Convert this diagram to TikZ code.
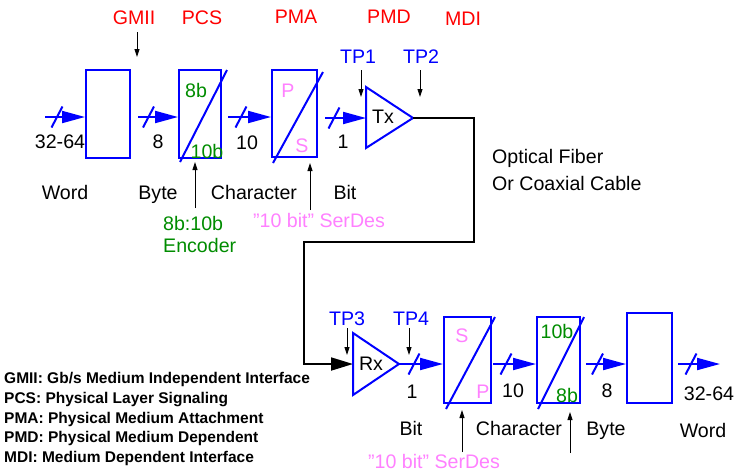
\documentclass[tikz,border=0pt]{standalone}
\usepackage{fontspec}
\setmainfont{Liberation Sans}
\usetikzlibrary{arrows.meta,calc}
\definecolor{myred}{RGB}{255,0,0}
\definecolor{myblue}{RGB}{0,0,255}
\definecolor{mygreen}{RGB}{0,140,0}
\definecolor{mypink}{RGB}{255,128,255}
\newcommand{\dq}{\symbol{34}}
\begin{document}
\begin{tikzpicture}[x=1pt,y=-1pt,
  txt/.style={font=\fontsize{19.6}{22}\selectfont, inner sep=0pt, anchor=base},
  legendtxt/.style={font=\fontsize{15.5}{18}\selectfont\bfseries, inner sep=0pt, anchor=base west},
  blk/.style={draw=myblue, line width=2pt, inner sep=0pt},
  bus/.style={draw=myblue, line width=2pt, -{Triangle[length=23pt,width=12pt]}},
  ptr/.style={draw=black, line width=0.9pt, -{Triangle[length=8pt,width=5pt]}},
  fiber/.style={draw=black, line width=1.8pt, -{Triangle[length=22pt,width=13pt]}},
  diag/.style={draw=myblue, line width=2pt},
  busslash/.pic={\draw[myblue, line width=2pt] (-5.5,10.5) -- (5.5,-10.5);}
]
\useasboundingbox (0,0) rectangle (735,472);

% ---------- top row ----------
\node[blk, minimum width=44pt, minimum height=88pt] (b1) at (108,114) {};
\node[blk, minimum width=42pt, minimum height=88pt] (b2) at (200,114) {};
\node[blk, minimum width=45pt, minimum height=87pt] (b3) at (294.5,113.5) {};
\draw[diag] ($(b2.south west)+(2,3)$) -- ($(b2.north east)+(5,1)$);
\draw[diag] ($(b3.south west)+(2,5)$) -- ($(b3.north east)+(5,3)$);

\coordinate (txin) at (366,118);
\coordinate (txout) at (413,118);
\draw[myblue, line width=2pt, line join=miter] (366,87) -- (txout) -- (366,148) -- cycle;
\node[txt] (tx) at (383,123) {Tx};

\coordinate (i1) at (45,117);
\coordinate (i2) at (138,117);
\coordinate (i3) at (228,117);
\coordinate (i4) at (325,118);
\draw[bus] (i1) -- (i1 -| b1.west);
\draw[bus] (i2) -- (i2 -| b2.west);
\draw[bus] (i3) -- (i3 -| b3.west);
\draw[bus] (i4) -- (txin);
\pic at (57,117) {busslash};
\pic at (148.5,117) {busslash};
\pic at (241,117) {busslash};
\pic at (334,118) {busslash};

\node[txt] (n1) at (60,148) {32-64};
\node[txt] (n2) at (158,148) {8};
\node[txt] (n3) at (247,149) {10};
\node[txt] (n4) at (343,148) {1};
\node[txt] (w1) at (65,199) {Word};
\node[txt] (w2) at (158,199) {Byte};
\node[txt] (w3) at (254,199) {Character};
\node[txt] (w4) at (345,199) {Bit};

\node[txt, text=mygreen] (e8a) at (196,97) {8b};
\node[txt, text=mygreen] (e10a) at (207,158) {10b};
\node[txt, text=mypink] (pa) at (288,97) {P};
\node[txt, text=mypink] (sa) at (302,152) {S};

\node[txt, text=myred] (gmii) at (134,24) {GMII};
\node[txt, text=myred] (pcs) at (202,24) {PCS};
\node[txt, text=myred] (pma) at (296,23) {PMA};
\node[txt, text=myred] (pmd) at (389,23) {PMD};
\node[txt, text=myred] (mdi) at (463,25) {MDI};
\node[txt, text=myblue] (tp1) at (358,63) {TP1};
\node[txt, text=myblue] (tp2) at (421,63) {TP2};

\coordinate (g0) at (137,32);  \coordinate (g1) at (137,57);
\coordinate (t10) at (361,70); \coordinate (t11) at (361,97);
\coordinate (t20) at (420,70); \coordinate (t21) at (420,97);
\coordinate (p0) at (195,208); \coordinate (p1) at (195,162);
\coordinate (m0) at (310,210); \coordinate (m1) at (310,163);
\draw[ptr] (g0) -- (g1);
\draw[ptr] (t10) -- (t11);
\draw[ptr] (t20) -- (t21);
\draw[ptr] (p0) -- (p1);
\draw[ptr] (m0) -- (m1);

\node[txt, anchor=base west, text=mygreen] (enc1) at (163,230) {8b:10b};
\node[txt, anchor=base west, text=mygreen] (enc2) at (163,252) {Encoder};
\node[txt, text=mypink] (sd1) at (319,227) {\dq10 bit\dq{} SerDes};

\node[txt, anchor=base west] (of1) at (492,163) {Optical Fiber};
\node[txt, anchor=base west] (of2) at (492,190) {Or Coaxial Cable};

% ---------- fiber ----------
\coordinate (rxin) at (353,364);
\coordinate (rxout) at (399,364);
\coordinate (f1) at (474,118);
\coordinate (f2) at (474,242);
\coordinate (f3) at (304,242);
\draw[fiber, line join=miter] (txout) -- (f1) -- (f2) -- (f3) |- (rxin);

% ---------- bottom row ----------
\draw[myblue, line width=2pt, line join=miter] (353,333) -- (rxout) -- (353,395) -- cycle;
\node[txt] (rx) at (371,370) {Rx};

\node[blk, minimum width=47pt, minimum height=86pt] (b4) at (467.5,360) {};
\node[blk, minimum width=43pt, minimum height=86pt] (b5) at (558.5,360) {};
\node[blk, minimum width=45pt, minimum height=90pt] (b6) at (649.5,358) {};
\draw[diag] ($(b4.south west)+(3,5)$) -- ($(b4.north east)+(3,1)$);
\draw[diag] ($(b5.south west)+(2,5)$) -- ($(b5.north east)+(3,1)$);

\coordinate (j6) at (493,364);
\coordinate (j7) at (586,364);
\coordinate (j8) at (678,364);
\coordinate (jout) at (720,364);
\draw[bus] (rxout) -- (rxout -| b4.west);
\draw[bus] (j6) -- (j6 -| b5.west);
\draw[bus] (j7) -- (j7 -| b6.west);
\draw[bus] (j8) -- (jout);
\pic at (414,364) {busslash};
\pic at (506,364) {busslash};
\pic at (597.5,364) {busslash};
\pic at (691,364) {busslash};

\node[txt, text=mypink] (sb) at (462,342) {S};
\node[txt, text=mypink] (pb) at (483,398) {P};
\node[txt, text=mygreen] (e10b) at (557,338) {10b};
\node[txt, text=mygreen] (e8b) at (567,402) {8b};

\node[txt, text=myblue] (tp3) at (347,325) {TP3};
\node[txt, text=myblue] (tp4) at (411,325) {TP4};
\coordinate (t30) at (347,328); \coordinate (t31) at (347,355);
\coordinate (t40) at (409,328); \coordinate (t41) at (409,355);
\coordinate (q0) at (462,452); \coordinate (q1) at (462,410);
\coordinate (r0) at (570,453); \coordinate (r1) at (570,412);
\draw[ptr] (t30) -- (t31);
\draw[ptr] (t40) -- (t41);
\draw[ptr] (q0) -- (q1);
\draw[ptr] (r0) -- (r1);

\node[txt] (m4) at (412,398) {1};
\node[txt] (m3) at (513,397) {10};
\node[txt] (m2) at (607,397) {8};
\node[txt] (m1n) at (709,400) {32-64};
\node[txt] (v4) at (411,435) {Bit};
\node[txt] (v3) at (519,435) {Character};
\node[txt] (v2) at (606,435) {Byte};
\node[txt] (v1) at (703,437) {Word};
\node[txt, text=mypink] (sd2) at (434,468) {\dq10 bit\dq{} SerDes};

% ---------- legend ----------
\node[legendtxt] (l1) at (4,383) {GMII: Gb/s Medium Independent Interface};
\node[legendtxt] (l2) at (4,403) {PCS: Physical Layer Signaling};
\node[legendtxt] (l3) at (4,423) {PMA: Physical Medium Attachment};
\node[legendtxt] (l4) at (4,442) {PMD: Physical Medium Dependent};
\node[legendtxt] (l5) at (4,462) {MDI: Medium Dependent Interface};
\end{tikzpicture}
\end{document}
